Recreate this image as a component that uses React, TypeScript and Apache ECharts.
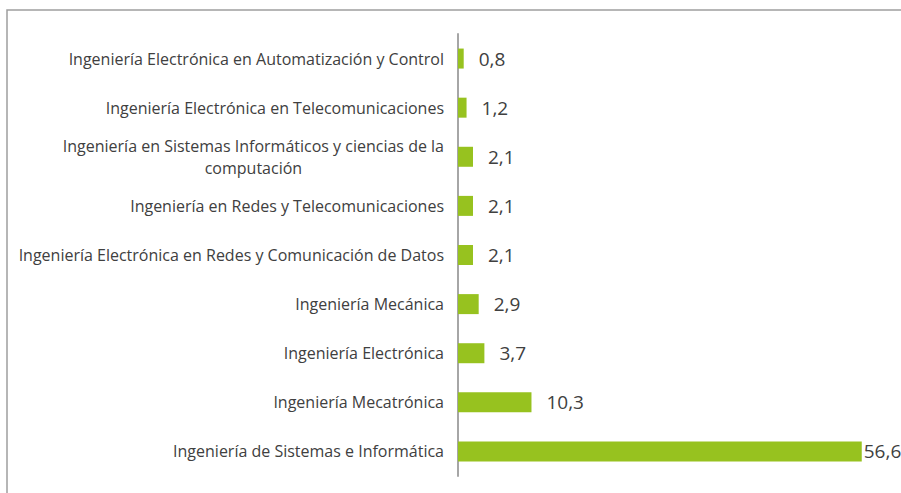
import React, { useEffect, useRef } from "react";
import * as echarts from "echarts";

const categories: string[] = [
  "Ingeniería Electrónica en Automatización y Control",
  "Ingeniería Electrónica en Telecomunicaciones",
  "Ingeniería en Sistemas Informáticos y ciencias de la\ncomputación",
  "Ingeniería en Redes y Telecomunicaciones",
  "Ingeniería Electrónica en Redes y Comunicación de Datos",
  "Ingeniería Mecánica",
  "Ingeniería Electrónica",
  "Ingeniería Mecatrónica",
  "Ingeniería de Sistemas e Informática",
];

const values: number[] = [0.8, 1.2, 2.1, 2.1, 2.1, 2.9, 3.7, 10.3, 56.6];

const fmt = (v: number) => v.toFixed(1).replace(".", ",");

export default function App() {
  const ref = useRef<HTMLDivElement>(null);
  useEffect(() => {
    if (!ref.current) return;
    const chart = echarts.init(ref.current, undefined, { renderer: "svg" });
    const lastIdx = values.length - 1;
    chart.setOption({
      animation: false,
      backgroundColor: "#ffffff",
      graphic: [
        {
          type: "rect",
          shape: { x: 7, y: 10, width: 2000, height: 2000 },
          style: { fill: "none", stroke: "#9e9e9e", lineWidth: 1.5 },
          silent: true,
        },
      ],
      grid: { left: 458, top: 34, height: 442, width: 428 },
      xAxis: {
        type: "value",
        min: 0,
        max: 60,
        show: false,
      },
      yAxis: {
        type: "category",
        inverse: true,
        data: categories,
        axisLine: { show: true, lineStyle: { color: "#a6a6a6", width: 2 } },
        axisTick: { show: false },
        splitLine: { show: false },
        axisLabel: {
          margin: 14,
          color: "#404040",
          fontFamily: "Open Sans",
          fontSize: 16,
          lineHeight: 22,
          formatter: (v: string) =>
            v
              .split("\n")
              .map((l) => `{c|${l}}`)
              .join("\n"),
          rich: {
            c: {
              align: "center",
              color: "#404040",
              fontFamily: "Open Sans",
              fontSize: 16,
              lineHeight: 22,
            },
          },
        },
      },
      series: [
        {
          type: "bar",
          barWidth: 20,
          itemStyle: { color: "#97c21f" },
          label: {
            show: true,
            position: "right",
            distance: 15,
            color: "#404040",
            fontFamily: "Open Sans",
            fontSize: 19,
            formatter: (p: any) => fmt(p.value),
          },
          data: values.map((v, i) =>
            i === lastIdx ? { value: v, label: { distance: 2 } } : v
          ),
        },
      ],
    });
    return () => chart.dispose();
  }, []);
  return (
    <div
      ref={ref}
      style={{ position: "fixed", left: 0, top: 0, width: 901, height: 493 }}
    />
  );
}
